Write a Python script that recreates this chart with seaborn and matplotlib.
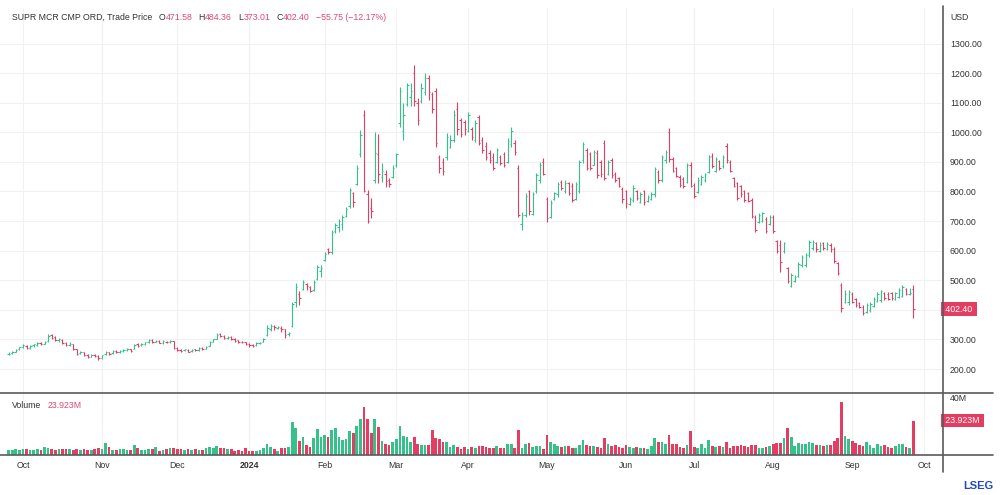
import numpy as np
import pandas as pd
import matplotlib
matplotlib.use("Agg")
import matplotlib.pyplot as plt
from matplotlib.lines import Line2D
import seaborn as sns

UP = "#35c28a"
DOWN = "#e33e62"
TXT_RED = "#d94a72"
DARK = "#333333"
GRID = "#f1f1f1"
RULE = "#5a5a5a"

START = "2023-09-26"
HOLIDAYS = ["2023-11-23", "2023-12-25", "2024-01-01", "2024-01-15", "2024-02-19",
            "2024-03-29", "2024-05-27", "2024-06-19", "2024-07-04", "2024-09-02"]

# daily OHLC (USD), one row of ten per line
open_px = [
    250, 253, 258, 266, 273, 279, 271, 280, 281, 287,
    286, 295, 314, 307, 298, 299, 287, 282, 283, 266,
    253, 256, 247, 242, 247, 244, 238, 250, 257, 253,
    262, 257, 260, 264, 267, 268, 283, 280, 285, 291,
    298, 293, 295, 289, 293, 291, 294, 271, 263, 263,
    265, 260, 266, 263, 271, 269, 279, 292, 303, 317,
    312, 306, 308, 302, 297, 293, 291, 283, 280, 280,
    287, 292, 315, 336, 346, 340, 340, 334, 318, 345,
    425, 455, 470, 488, 478, 468, 503, 530, 570, 606,
    595, 665, 680, 690, 718, 750, 795, 825, 925, 1060,
    790, 745, 840, 925, 850, 860, 840, 850, 890, 1030,
    1005, 1095, 1120, 1200, 1100, 1105, 1135, 1185, 1130, 1140,
    915, 900, 915, 950, 975, 1080, 1040, 1035, 1005, 1010,
    975, 1050, 975, 955, 930, 915, 900, 915, 925, 900,
    960, 965, 880, 690, 720, 800, 725, 800, 840, 900,
    775, 715, 775, 790, 832, 800, 828, 820, 775, 800,
    905, 940, 925, 890, 930, 900, 965, 860, 905, 860,
    845, 810, 800, 758, 770, 802, 765, 800, 768, 775,
    790, 865, 840, 905, 1000, 910, 878, 850, 842, 832,
    890, 822, 798, 826, 838, 866, 920, 870, 902, 885,
    955, 900, 845, 828, 818, 800, 795, 770, 715, 697,
    700, 708, 690, 715, 632, 620, 598, 540, 482, 498,
    515, 550, 552, 585, 608, 625, 600, 625, 605, 620,
    605, 558, 485, 428, 425, 455, 435, 422, 410, 392,
    398, 412, 430, 432, 456, 455, 456, 438, 445, 448,
    470, 452, 471.58,
]
high_px = [
    256, 260, 267, 276, 284, 281, 282, 286, 291, 290,
    294, 318, 318, 310, 304, 301, 290, 291, 285, 268,
    262, 258, 250, 251, 250, 246, 249, 262, 259, 265,
    264, 263, 267, 271, 269, 285, 287, 288, 293, 302,
    300, 299, 297, 297, 296, 299, 295, 274, 267, 269,
    267, 268, 268, 273, 274, 279, 294, 303, 322, 321,
    315, 312, 310, 305, 299, 296, 293, 287, 283, 290,
    292, 304, 350, 353, 350, 347, 344, 336, 325, 428,
    490, 462, 500, 492, 480, 500, 551, 551, 596, 609,
    670, 693, 706, 720, 747, 811, 798, 889, 1007, 1077,
    805, 777, 1000, 995, 896, 872, 845, 889, 930, 1153,
    1100, 1166, 1166, 1229, 1115, 1166, 1200, 1193, 1136, 1149,
    923, 913, 997, 990, 1075, 1102, 1048, 1041, 1068, 1018,
    1041, 1058, 983, 967, 940, 929, 946, 923, 933, 980,
    1018, 973, 889, 730, 794, 805, 798, 862, 899, 913,
    781, 771, 798, 832, 838, 838, 832, 828, 832, 906,
    967, 946, 933, 940, 940, 906, 973, 906, 913, 865,
    848, 815, 805, 781, 821, 805, 798, 805, 788, 798,
    882, 872, 923, 940, 1014, 916, 882, 855, 848, 896,
    899, 828, 848, 855, 862, 923, 929, 916, 906, 923,
    963, 906, 848, 832, 821, 805, 798, 778, 720, 727,
    730, 713, 720, 720, 636, 636, 629, 545, 524, 518,
    562, 585, 592, 636, 636, 629, 629, 629, 629, 625,
    612, 562, 490, 467, 467, 460, 440, 426, 416, 423,
    426, 443, 460, 467, 460, 460, 460, 460, 474, 484,
    474, 474, 484.36,
]
low_px = [
    247, 251, 256, 263, 270, 266, 269, 276, 279, 280,
    283, 293, 302, 294, 293, 285, 278, 279, 265, 248,
    250, 243, 238, 240, 240, 232, 235, 248, 248, 251,
    255, 254, 257, 261, 259, 266, 276, 277, 282, 289,
    289, 290, 287, 286, 287, 289, 269, 262, 257, 260,
    256, 258, 260, 261, 265, 267, 277, 290, 301, 308,
    301, 302, 298, 293, 289, 287, 281, 276, 273, 278,
    283, 290, 312, 330, 332, 334, 326, 305, 311, 342,
    409, 416, 467, 467, 460, 465, 500, 510, 566, 588,
    590, 658, 663, 670, 713, 743, 747, 821, 916, 798,
    693, 710, 828, 830, 832, 815, 815, 845, 882, 1018,
    973, 1090, 1090, 1090, 1024, 1100, 1126, 1109, 1065, 950,
    862, 855, 906, 946, 967, 990, 983, 990, 1000, 973,
    967, 956, 929, 906, 896, 872, 896, 889, 882, 896,
    950, 923, 713, 670, 713, 720, 720, 794, 828, 855,
    697, 710, 771, 781, 805, 794, 788, 764, 771, 794,
    896, 872, 872, 889, 845, 848, 838, 855, 845, 832,
    815, 761, 743, 754, 764, 771, 761, 754, 764, 771,
    781, 828, 832, 896, 899, 865, 848, 815, 811, 828,
    815, 778, 794, 821, 832, 862, 879, 865, 872, 879,
    896, 865, 815, 771, 781, 764, 764, 710, 663, 693,
    697, 659, 686, 659, 592, 528, 592, 490, 477, 494,
    511, 545, 545, 579, 602, 595, 595, 602, 602, 595,
    558, 518, 393, 423, 416, 423, 409, 406, 382, 389,
    393, 409, 426, 426, 433, 433, 433, 433, 440, 443,
    450, 450, 373.01,
]
close_px = [
    252, 258, 265, 274, 281, 270, 279, 283, 288, 285,
    291, 311, 306, 297, 300, 288, 281, 284, 268, 252,
    258, 246, 241, 248, 244, 237, 246, 256, 252, 262,
    258, 260, 264, 268, 262, 282, 279, 284, 290, 299,
    292, 296, 289, 294, 290, 296, 272, 265, 262, 266,
    259, 265, 263, 270, 268, 276, 291, 300, 316, 313,
    305, 308, 302, 296, 292, 290, 284, 282, 279, 287,
    288, 300, 338, 345, 341, 342, 336, 316, 322, 420,
    478, 440, 495, 482, 465, 495, 545, 540, 590, 594,
    662, 688, 700, 715, 742, 805, 765, 880, 992, 803,
    700, 735, 930, 860, 870, 835, 825, 880, 925, 1140,
    1060, 1160, 1140, 1105, 1040, 1150, 1185, 1135, 1080, 965,
    880, 870, 985, 975, 1060, 1010, 995, 1010, 1060, 985,
    1030, 965, 940, 915, 905, 880, 940, 895, 890, 970,
    1005, 935, 720, 720, 785, 735, 790, 855, 890, 860,
    710, 760, 795, 825, 812, 830, 795, 772, 825, 898,
    960, 880, 878, 932, 855, 860, 845, 898, 855, 838,
    820, 775, 760, 775, 812, 778, 790, 765, 782, 792,
    875, 840, 915, 935, 910, 870, 852, 822, 818, 888,
    820, 785, 840, 850, 858, 915, 885, 910, 878, 918,
    905, 870, 820, 778, 790, 770, 768, 718, 670, 722,
    726, 665, 715, 665, 600, 560, 625, 496, 518, 512,
    555, 580, 585, 630, 630, 605, 620, 610, 622, 605,
    565, 525, 405, 455, 460, 428, 415, 410, 388, 418,
    420, 438, 455, 462, 440, 438, 440, 456, 468, 478,
    455, 458.15, 402.40,
]
# daily volume, millions of shares
volume_m = [
    3.2, 3.6, 4.0, 3.8, 4.1, 4.3, 3.6, 3.4, 3.9, 3.5,
    5.8, 4.6, 4.0, 3.7, 4.3, 4.5, 3.9, 4.2, 3.3, 4.1,
    3.6, 4.0, 3.8, 3.5, 4.2, 5.1, 4.4, 8.0, 5.4, 3.7,
    3.5, 4.4, 3.9, 3.4, 3.6, 7.0, 4.6, 3.7, 3.5, 4.3,
    3.9, 5.3, 2.9, 3.8, 4.4, 4.9, 5.2, 4.5, 4.2, 3.8,
    4.0, 3.7, 3.9, 3.2, 3.6, 4.7, 5.8, 4.9, 6.2, 4.6,
    4.8, 4.0, 3.9, 3.1, 3.3, 2.6, 4.7, 3.0, 2.6, 2.9,
    3.2, 4.6, 7.4, 5.8, 4.4, 3.0, 5.2, 4.9, 5.3, 23.1,
    18.5, 10.0, 12.3, 7.0, 5.3, 11.6, 17.8, 12.7, 13.9, 12.7,
    17.3, 18.5, 12.3, 10.4, 10.9, 16.9, 15.0, 20.0, 24.7, 33.5,
    25.0, 15.0, 25.0, 19.6, 10.0, 7.4, 6.9, 9.2, 11.0, 20.3,
    13.4, 12.3, 9.2, 12.3, 7.6, 6.9, 6.9, 6.9, 17.3, 12.0,
    10.9, 9.2, 8.8, 5.3, 6.9, 5.8, 4.2, 5.3, 4.2, 5.6,
    4.9, 6.5, 6.3, 5.4, 5.0, 4.6, 5.9, 4.8, 5.1, 7.4,
    7.6, 5.2, 17.3, 4.6, 7.7, 8.3, 5.6, 6.0, 6.5, 4.2,
    13.9, 9.2, 7.5, 6.4, 5.6, 6.5, 6.1, 5.0, 4.7, 7.0,
    10.4, 6.6, 5.9, 6.3, 5.4, 4.8, 11.6, 7.3, 6.2, 6.8,
    5.5, 5.0, 6.6, 5.7, 4.9, 5.7, 4.6, 5.2, 4.1, 5.9,
    12.0, 9.0, 9.2, 7.6, 13.9, 7.6, 7.3, 5.4, 4.8, 7.0,
    16.6, 5.8, 4.9, 7.9, 4.6, 10.4, 6.2, 5.6, 6.4, 5.7,
    9.0, 5.0, 6.0, 6.3, 7.2, 6.1, 5.3, 6.8, 6.7, 4.9,
    5.2, 5.6, 6.4, 7.3, 8.0, 8.3, 11.6, 18.5, 12.3, 6.5,
    8.6, 7.8, 7.3, 8.9, 8.1, 7.0, 6.9, 6.3, 6.7, 6.8,
    9.7, 11.6, 36.5, 13.4, 10.9, 10.0, 8.6, 7.0, 6.2, 8.7,
    7.2, 5.1, 7.5, 6.0, 7.0, 5.4, 5.0, 6.2, 7.8, 7.4,
    5.3, 5.0, 23.923,
]
PRICE_TICKS = list(range(200, 1400, 100))

sns.set_theme(style="white")
plt.rcParams["font.family"] = ["Liberation Sans", "DejaVu Sans"]

# trading calendar, extended to Oct 1 so the last month label has a slot
cal = pd.bdate_range(START, "2024-10-01")
cal = cal[~cal.isin(pd.to_datetime(HOLIDAYS))]
pos = np.arange(len(cal))
first = np.r_[False, cal.month[1:] != cal.month[:-1]]
tick_pos = pos[first]
tick_lab = [str(d.year) if d.month == 1 else d.strftime("%b") for d in cal[first]]

n = len(close_px)
df = pd.DataFrame({
    "idx": np.arange(n), "date": cal[:n],
    "open": open_px, "high": high_px, "low": low_px, "close": close_px,
    "vol": volume_m,
})
df["dir"] = np.where(df["close"] >= df["open"], "up", "down")
cols = df["dir"].map({"up": UP, "down": DOWN}).tolist()
last = df.iloc[-1]

fig = plt.figure(figsize=(10, 4.95), dpi=100)
W, H = 1000, 495
ax_p = fig.add_axes([0, 1 - 393 / H, 943 / W, (393 - 8) / H])
ax_v = fig.add_axes([0, 1 - 455 / H, 943 / W, (455 - 393) / H])
XLIM = (-2.4, 260.3)
FS = 6.3

# ── price pane: OHLC bars ──
ax_p.vlines(df["idx"], df["low"], df["high"], colors=cols, lw=0.8, zorder=3)
ax_p.hlines(df["open"], df["idx"] - 0.4, df["idx"], colors=cols, lw=0.8, zorder=3)
ax_p.hlines(df["close"], df["idx"], df["idx"] + 0.4, colors=cols, lw=0.8, zorder=3)
ax_p.set_xlim(*XLIM)
ax_p.set_ylim(119, 1420)
ax_p.set_yticks(PRICE_TICKS)
# the 400 label sits under the last-price tag, as on the source chart
ax_p.set_yticklabels(["" if v == 400 else f"{v:.2f}" for v in PRICE_TICKS])
ax_p.yaxis.tick_right()
ax_p.tick_params(axis="y", length=0, pad=5, labelsize=FS, labelcolor=DARK)
ax_p.set_xticks(tick_pos)
ax_p.tick_params(axis="x", length=0, labelbottom=False)
ax_p.grid(True, color=GRID, lw=0.8)
ax_p.set_axisbelow(True)
for s in ax_p.spines.values():
    s.set_visible(False)
ax_p.text(1.0, last["close"], f" {last['close']:.2f} ", transform=ax_p.get_yaxis_transform(),
          ha="left", va="center", fontsize=FS, color="white", clip_on=False, zorder=5,
          bbox=dict(boxstyle="square,pad=0.25", fc=DOWN, ec="none"))

# ── volume pane ──
sns.barplot(data=df, x="idx", y="vol", color=UP, native_scale=True, width=0.75,
            saturation=1, errorbar=None, ax=ax_v)
for bar, c in zip(ax_v.patches, cols):
    bar.set_facecolor(c)
    bar.set_edgecolor("none")
ax_v.set_xlim(*XLIM)
ax_v.set_ylim(0, 43)
ax_v.set_yticks([40])
ax_v.set_yticklabels(["40M"])
ax_v.yaxis.tick_right()
ax_v.tick_params(axis="y", length=0, pad=5, labelsize=FS, labelcolor=DARK)
ax_v.set_xticks(tick_pos)
ax_v.set_xticklabels(tick_lab)
ax_v.tick_params(axis="x", length=0, pad=4, labelsize=FS, labelcolor=DARK)
for lab in ax_v.get_xticklabels():
    if lab.get_text() == "2024":
        lab.set_fontweight("bold")
ax_v.set_xlabel("")
ax_v.set_ylabel("")
ax_v.grid(True, axis="x", color=GRID, lw=0.8)
ax_v.set_axisbelow(True)
for s in ax_v.spines.values():
    s.set_visible(False)
ax_v.text(1.0, last["vol"], f" {last['vol']:.3f}M ", transform=ax_v.get_yaxis_transform(),
          ha="left", va="center", fontsize=FS, color="white", clip_on=False, zorder=5,
          bbox=dict(boxstyle="square,pad=0.25", fc=DOWN, ec="none"))

# pane separators
for y in (393, 455):
    fig.add_artist(Line2D([0, 993 / W], [1 - y / H] * 2, color=RULE, lw=1.2))
fig.add_artist(Line2D([943 / W] * 2, [1 - 6 / H, 1 - 472 / H], color=RULE, lw=1.2))


def text_run(x_px, y_px, pieces):
    """Lay text pieces left to right, each (text, colour, gap before in px)."""
    renderer = fig.canvas.get_renderer()
    x = x_px
    for s, c, gap in pieces:
        x += gap
        t = fig.text(x / W, 1 - y_px / H, s, fontsize=FS, color=c, ha="left", va="center")
        x = t.get_window_extent(renderer).x1


prev_close = df["close"].iloc[-2]
chg = last["close"] - prev_close
pct = chg / prev_close * 100
text_run(12, 17, [
    ("SUPR MCR CMP ORD, Trade Price", DARK, 0),
    ("O", DARK, 6), (f"{last['open']:.2f}", TXT_RED, 0.5),
    ("H", DARK, 6), (f"{last['high']:.2f}", TXT_RED, 0.5),
    ("L", DARK, 6), (f"{last['low']:.2f}", TXT_RED, 0.5),
    ("C", DARK, 6), (f"{last['close']:.2f}", TXT_RED, 0.5),
    (f"\u2212{abs(chg):.2f} (\u2212{abs(pct):.2f}%)", TXT_RED, 6),
])
fig.text(950 / W, 1 - 17 / H, "USD", fontsize=FS, color=DARK, ha="left", va="center")
text_run(12, 405, [("Volume", DARK, 0), (f"{last['vol']:.3f}M", TXT_RED, 6)])

fig.text(993 / W, 1 - 486 / H, "LSEG", fontsize=8, fontweight="bold", color="#2447c8",
         ha="right", va="center")

fig.savefig("out.png", dpi=100)
